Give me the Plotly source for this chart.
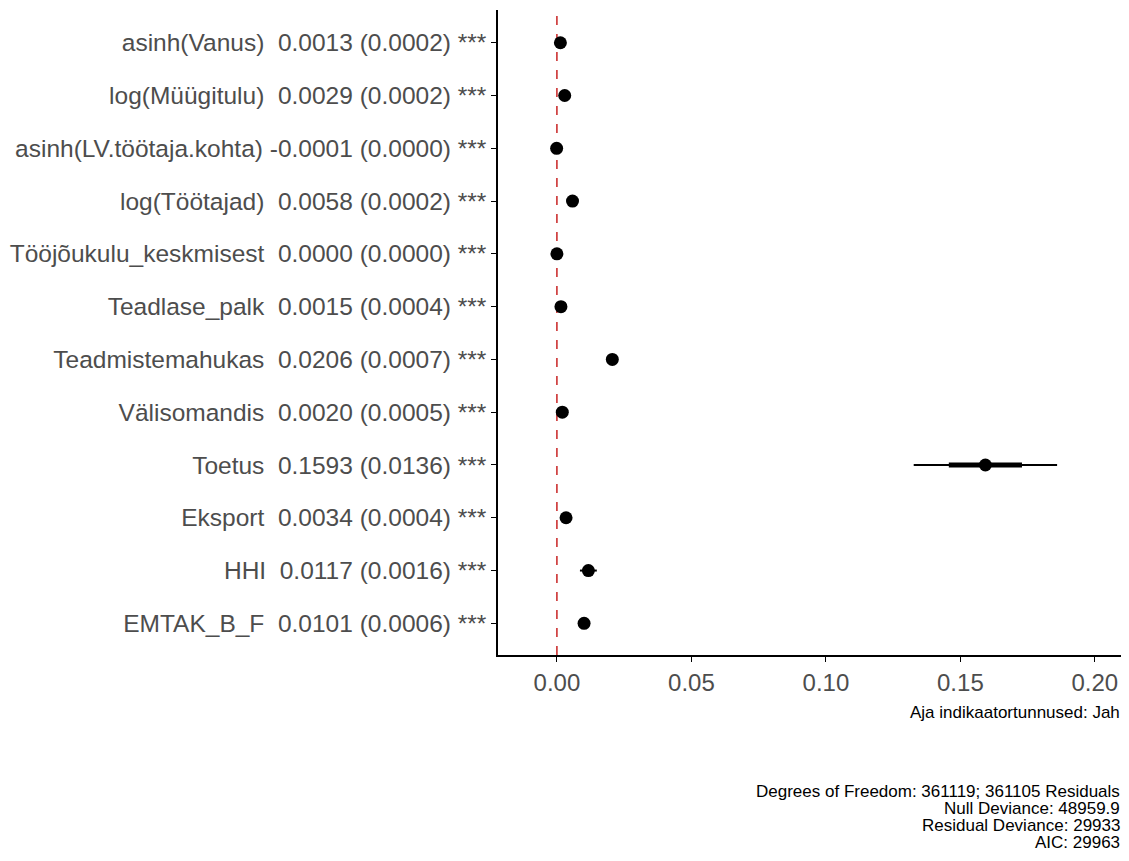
import plotly.graph_objects as go

names = ["asinh(Vanus)", "log(Müügitulu)", "asinh(LV.töötaja.kohta)", "log(Töötajad)",
         "Tööjõukulu_keskmisest", "Teadlase_palk", "Teadmistemahukas", "Välisomandis",
         "Toetus", "Eksport", "HHI", "EMTAK_B_F"]
coef = [0.0013, 0.0029, -0.0001, 0.0058, 0.0000, 0.0015, 0.0206, 0.0020,
        0.1593, 0.0034, 0.0117, 0.0101]
se = [0.0002, 0.0002, 0.0000, 0.0002, 0.0000, 0.0004, 0.0007, 0.0005,
      0.0136, 0.0004, 0.0016, 0.0006]
stars = ["***"] * 12
xticks = [0.0, 0.05, 0.10, 0.15, 0.20]
footer_top = "Aja indikaatortunnused: Jah"
footer_lines = ["Degrees of Freedom: 361119; 361105 Residuals", "Null Deviance: 48959.9",
                "Residual Deviance: 29933", "AIC: 29963"]

labels = []
for n, c, s, st in zip(names, coef, se, stars):
    cs = f"{c:.4f}"
    sep = "\u00a0" if c < 0 else "\u00a0\u00a0"
    labels.append(f"{n}{sep}{cs} ({s:.4f}) {st}")

ypos = list(range(len(names)))

# error bar segments
thin_x, thin_y, thick_x, thick_y = [], [], [], []
for i, (c, s) in enumerate(zip(coef, se)):
    thin_x += [c - 1.96 * s, c + 1.96 * s, None]
    thin_y += [i, i, None]
    thick_x += [c - s, c + s, None]
    thick_y += [i, i, None]

fig = go.Figure()
fig.add_trace(go.Scatter(x=thin_x, y=thin_y, mode="lines",
                         line=dict(color="black", width=2), showlegend=False, hoverinfo="skip"))
fig.add_trace(go.Scatter(x=thick_x, y=thick_y, mode="lines",
                         line=dict(color="black", width=5), showlegend=False, hoverinfo="skip"))
fig.add_trace(go.Scatter(x=coef, y=ypos, mode="markers",
                         marker=dict(color="black", size=13), showlegend=False))

fig.add_shape(type="line", xref="x", yref="paper", x0=0, x1=0, y0=0, y1=1,
              line=dict(color="rgb(200,35,35)", width=1.5, dash="dash"), layer="below")

font_family = "Liberation Sans, Arial, sans-serif"
# page body has an 8px margin, so the figure is sized/offset to compensate
fig.update_layout(
    width=1121, height=853,
    margin=dict(l=490, r=4, t=2, b=206),
    paper_bgcolor="white", plot_bgcolor="white",
    font=dict(family=font_family),
    xaxis=dict(range=[-0.0219, 0.2112], tickvals=xticks, automargin=False,
               ticktext=[f"{v:.2f}" for v in xticks],
               showgrid=False, zeroline=False, showline=True, linecolor="black", linewidth=1.5,
               ticks="outside", ticklen=5, tickcolor="black", tickwidth=1,
               tickfont=dict(size=24, color="#4d4d4d", family=font_family)),
    yaxis=dict(range=[11.6, -0.62], tickvals=ypos, ticktext=labels, automargin=False,
               showgrid=False, zeroline=False, showline=True, linecolor="black", linewidth=1.5,
               ticks="outside", ticklen=5, tickcolor="black", tickwidth=1,
               tickfont=dict(size=24.5, color="#4d4d4d", family=font_family)),
)

ph = 645.0
def ypaper(px):
    return (655 - px) / ph

fig.add_annotation(text=footer_top, xref="paper", yref="paper", x=1.0, y=ypaper(712),
                   xanchor="right", yanchor="middle", showarrow=False, xshift=-3,
                   font=dict(size=17, color="black", family=font_family))
for k, line in enumerate(footer_lines):
    fig.add_annotation(text=line, xref="paper", yref="paper", x=1.0, y=ypaper(791 + 17 * k),
                       xanchor="right", yanchor="middle", showarrow=False, xshift=-3,
                       font=dict(size=17, color="black", family=font_family))

fig.write_html("out.html")
